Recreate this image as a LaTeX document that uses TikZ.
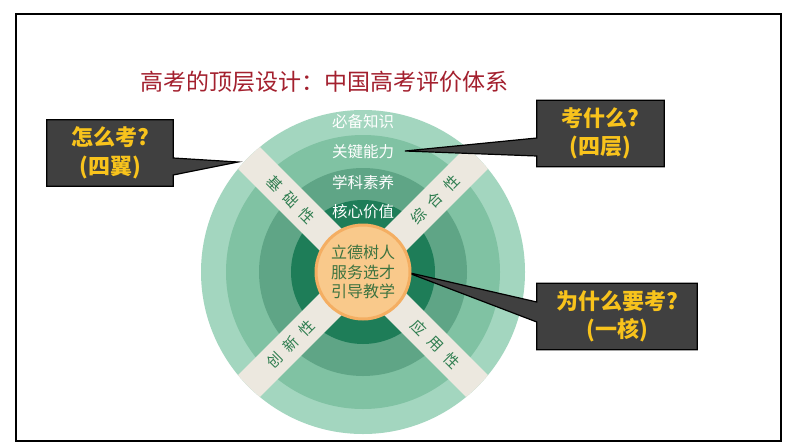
\documentclass[tikz,border=0pt]{standalone}
\usepackage{fontspec}
\newfontfamily\cjk{Noto Sans CJK SC}
\usetikzlibrary{calc}
\pgfdeclarelayer{bg}
\pgfdeclarelayer{mid}
\pgfsetlayers{bg,mid,main}
\definecolor{ringA}{HTML}{A3D6BF}
\definecolor{ringB}{HTML}{80C2A3}
\definecolor{ringC}{HTML}{5FA586}
\definecolor{ringD}{HTML}{1E7D58}
\definecolor{bandcol}{HTML}{ECE8DF}
\definecolor{bandtxt}{HTML}{2E7D4F}
\definecolor{corefill}{HTML}{F9C98B}
\definecolor{coreedge}{HTML}{F4AE62}
\definecolor{coretxt}{HTML}{3D7340}
\definecolor{titlecol}{HTML}{A3202E}
\definecolor{boxfill}{HTML}{404040}
\definecolor{qtxt}{HTML}{F8C31C}
\tikzset{
  titletext/.style={text=titlecol, font=\cjk\fontsize{23}{26}\selectfont, inner sep=0pt},
  ringlabel/.style={text=white, font=\cjk\fontsize{15.5}{18}\selectfont, inner sep=0pt},
  bandchar/.style={text=bandtxt, font=\cjk\fontsize{15}{17}\selectfont, inner sep=0pt},
  corenode/.style={circle, minimum size=94pt, fill=corefill, draw=coreedge, line width=3pt,
    text=coretxt, align=center, font=\cjk\fontsize{16}{19.5}\selectfont, inner sep=0pt},
  qbox/.style={minimum width=#1, minimum height=66pt, inner sep=0pt, align=center,
    text=qtxt, font=\cjk\bfseries\fontsize{22}{28.5}\selectfont},
  callout/.style={fill=boxfill, draw=black, line width=1.2pt, line join=miter},
}
\begin{document}
\begin{tikzpicture}[x=1pt,y=-1pt]
\useasboundingbox (0,0) rectangle (794,447);
\begin{pgfonlayer}{bg}
\fill[white] (0,0) rectangle (794,447);
\end{pgfonlayer}
\draw[line width=2pt] (16,14) rectangle (781,441);

\node[titletext] (title) at (324,82) {高考的顶层设计：中国高考评价体系};

% ---- circle ----
\coordinate (O) at (363,272);
\begin{pgfonlayer}{bg}
\fill[ringA] (O) circle (162);
\fill[ringB] (O) circle (137);
\fill[ringC] (O) circle (104);
\fill[ringD] (O) circle (72);
\begin{scope}
\clip (O) circle (162);
\fill[bandcol, rotate around={45:(O)}] ($(O)+(-175,-15.5)$) rectangle ($(O)+(175,15.5)$);
\fill[bandcol, rotate around={-45:(O)}] ($(O)+(-175,-15.5)$) rectangle ($(O)+(175,15.5)$);
\end{scope}
\end{pgfonlayer}

\node[corenode] (core) at (O) {立德树人\\服务选才\\引导教学};

\node[ringlabel] (l1) at (363,122) {必备知识};
\node[ringlabel] (l2) at (363,152) {关键能力};
\node[ringlabel] (l3) at (363,183) {学科素养};
\node[ringlabel] (l4) at (363,212) {核心价值};

% band characters (distances along the diagonals)
\node[bandchar, rotate=-45] (ja) at ($(O)+(-88.4,-88.4)$) {基};
\node[bandchar, rotate=-45] (jb) at ($(O)+(-72.1,-72.1)$) {础};
\node[bandchar, rotate=-45] (jc) at ($(O)+(-55.9,-55.9)$) {性};

\node[bandchar, rotate=45] (za) at ($(O)+(55.9,-55.9)$) {综};
\node[bandchar, rotate=45] (zb) at ($(O)+(72.1,-72.1)$) {合};
\node[bandchar, rotate=45] (zc) at ($(O)+(88.4,-88.4)$) {性};

\node[bandchar, rotate=45] (ca) at ($(O)+(-88.4,88.4)$) {创};
\node[bandchar, rotate=45] (cb) at ($(O)+(-72.1,72.1)$) {新};
\node[bandchar, rotate=45] (cc) at ($(O)+(-55.9,55.9)$) {性};

\node[bandchar, rotate=-45] (ya) at ($(O)+(55.9,55.9)$) {应};
\node[bandchar, rotate=-45] (yb) at ($(O)+(72.1,72.1)$) {用};
\node[bandchar, rotate=-45] (yc) at ($(O)+(88.4,88.4)$) {性};

% ---- callouts ----
\node[qbox=126pt] (q1) at (110,153) {怎么考?\\(四翼)};
\node[qbox=127pt] (q2) at (600.5,133.5) {考什么?\\(四层)};
\node[qbox=160pt] (q3) at (617,316.5) {为什么要考?\\(一核)};

\coordinate (t1) at (238,162);
\coordinate (t2) at (405,151);
\coordinate (t3) at (406,272);
\coordinate (p1a) at (0,158);
\coordinate (p1b) at (0,175);
\coordinate (p2a) at (0,138);
\coordinate (p2b) at (0,156);
\coordinate (p3a) at (0,302);
\coordinate (p3b) at (0,322);

\begin{pgfonlayer}{mid}
\filldraw[callout] (q1.north west) -- (q1.north east) -- (q1.east |- p1a) -- (t1)
  -- (q1.east |- p1b) -- (q1.south east) -- (q1.south west) -- cycle;
\filldraw[callout] (q2.north east) -- (q2.north west) -- (q2.west |- p2a) -- (t2)
  -- (q2.west |- p2b) -- (q2.south west) -- (q2.south east) -- cycle;
\filldraw[callout] (q3.north east) -- (q3.north west) -- (q3.west |- p3a) -- (t3)
  -- (q3.west |- p3b) -- (q3.south west) -- (q3.south east) -- cycle;
\end{pgfonlayer}
\end{tikzpicture}
\end{document}
